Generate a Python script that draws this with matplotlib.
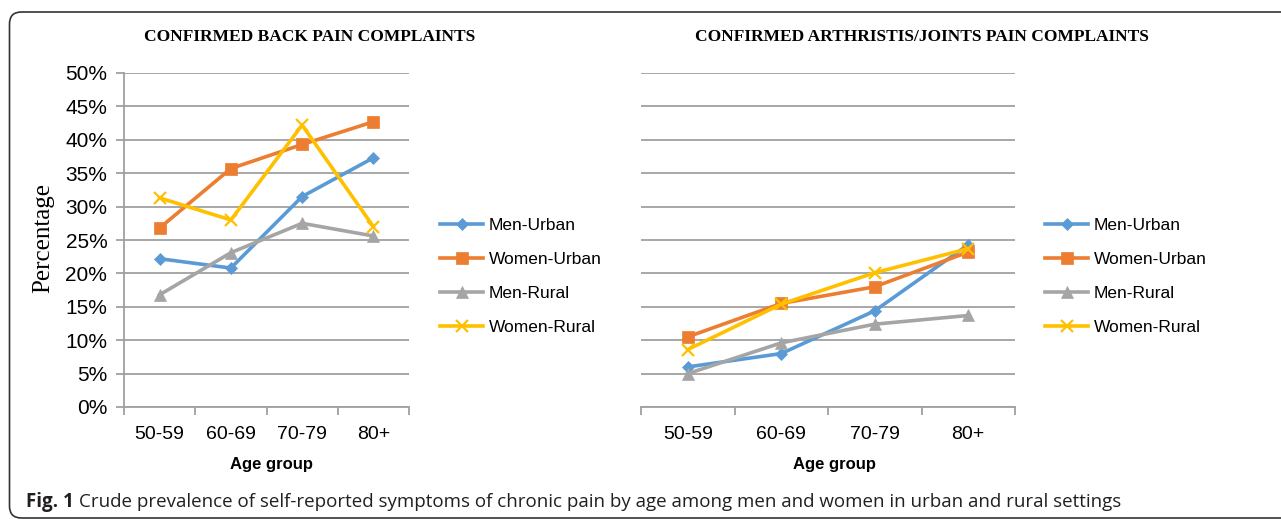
import numpy as np
import matplotlib
matplotlib.use('Agg')
import matplotlib.pyplot as plt
from matplotlib.patches import FancyBboxPatch
from matplotlib.transforms import IdentityTransform

W, H = 1281, 519

age_groups = ['50-59', '60-69', '70-79', '80+']
series_names = ['Men-Urban', 'Women-Urban', 'Men-Rural', 'Women-Rural']

# Back pain (%)
back_men_urban = [22.2, 20.8, 31.5, 37.3]
back_women_urban = [26.8, 35.7, 39.3, 42.7]
back_men_rural = [16.8, 23.1, 27.5, 25.6]
back_women_rural = [31.3, 28.0, 42.2, 27.0]

# Arthritis / joints pain (%)
joint_men_urban = [6.0, 8.0, 14.4, 24.3]
joint_women_urban = [10.5, 15.5, 18.0, 23.2]
joint_men_rural = [5.0, 9.6, 12.4, 13.7]
joint_women_rural = [8.6, 15.4, 20.1, 23.7]

y_ticks = [0, 5, 10, 15, 20, 25, 30, 35, 40, 45, 50]

colors = ['#5B9BD5', '#ED7D31', '#A5A5A5', '#FFC000']
markers = ['D', 's', '^', 'x']
msizes = [6.5, 8, 8, 9]

sans = 'Liberation Sans'
serif = 'Liberation Serif'
grid_col = '#a0a0a0'


def fx(px):
    return px / W


def fy(py):
    return 1 - py / H


fig = plt.figure(figsize=(W / 100, H / 100), dpi=100)


def make_axes(left, right, top, bottom, data, show_y):
    ax = fig.add_axes([fx(left), fy(bottom), fx(right - left), fy(top) - fy(bottom)])
    x = np.arange(len(age_groups))
    for vals, name, c, m, ms in zip(data, series_names, colors, markers, msizes):
        ax.plot(x, vals, color=c, lw=2.6, marker=m, markersize=ms,
                markeredgewidth=1.6 if m == 'x' else 0.5, markeredgecolor=c,
                label=name, zorder=3)
    ax.set_xlim(-0.5, 3.5)
    ax.set_ylim(0, 50)
    ax.set_yticks(y_ticks)
    ax.grid(axis='y', color=grid_col, lw=1.3)
    ax.set_axisbelow(True)
    ax.set_xticks(x)
    ax.set_xticklabels(age_groups, fontfamily=sans, fontsize=14)
    ax.set_xticks([-0.5, 0.5, 1.5, 2.5, 3.5], minor=True)
    ax.tick_params(axis='x', which='major', length=0, pad=14)
    ax.tick_params(axis='x', which='minor', length=6, color=grid_col, width=1.3)
    for s in ['top', 'right']:
        ax.spines[s].set_visible(False)
    ax.spines['bottom'].set_color(grid_col)
    ax.spines['bottom'].set_linewidth(1.3)
    if show_y:
        ax.set_yticklabels(['{}%'.format(v) for v in y_ticks], fontfamily=sans, fontsize=15)
        ax.tick_params(axis='y', length=6, color=grid_col, width=1.3, pad=6)
        ax.spines['left'].set_color(grid_col)
        ax.spines['left'].set_linewidth(1.3)
    else:
        ax.spines['left'].set_visible(False)
        ax.tick_params(axis='y', length=0, labelleft=False)
    return ax


ax1 = make_axes(124, 409, 73, 407,
                [back_men_urban, back_women_urban, back_men_rural, back_women_rural], True)
ax2 = make_axes(641, 1015, 73, 407,
                [joint_men_urban, joint_women_urban, joint_men_rural, joint_women_rural], False)

for ax, lx in [(ax1, 440), (ax2, 1045)]:
    ax.legend(loc='upper left', bbox_to_anchor=(fx(lx), fy(218)),
              bbox_transform=fig.transFigure, frameon=False,
              prop={'family': sans, 'size': 12.5}, handlelength=2.5,
              handletextpad=0.3, labelspacing=1.08, borderpad=0, borderaxespad=0)

# titles and axis labels
fig.text(fx(310), fy(37), 'CONFIRMED BACK PAIN COMPLAINTS', ha='center', va='center',
         fontfamily=serif, fontweight='bold', fontsize=12.5)
fig.text(fx(922), fy(37), 'CONFIRMED ARTHRISTIS/JOINTS PAIN COMPLAINTS', ha='center', va='center',
         fontfamily=serif, fontweight='bold', fontsize=12.5)
fig.text(fx(43), fy(238), 'Percentage', rotation=90, ha='center', va='center',
         fontfamily=serif, fontsize=18)
fig.text(fx(272), fy(464), 'Age group', ha='center', va='center',
         fontfamily=sans, fontweight='bold', fontsize=12)
fig.text(fx(835), fy(464), 'Age group', ha='center', va='center',
         fontfamily=sans, fontweight='bold', fontsize=12)

# frame around the figure
box = FancyBboxPatch((9.5, H - 518), 1300, 518 - 12,
                     boxstyle='round,pad=0,rounding_size=12',
                     transform=IdentityTransform(), fill=False,
                     edgecolor='#333333', lw=1.2)
fig.add_artist(box)

# caption
cap_col = '#231f20'
t1 = fig.text(fx(26), fy(502), 'Fig. 1', ha='left', va='center',
              fontfamily='Open Sans', fontweight='bold', fontsize=13.5, color=cap_col)
fig.canvas.draw()
bb = t1.get_window_extent()
fig.text((bb.x1 + 5) / W, fy(502),
         'Crude prevalence of self-reported symptoms of chronic pain by age among men and women in urban and rural settings',
         ha='left', va='center', fontfamily='Open Sans', fontsize=13.5, color=cap_col)

fig.savefig('out.png', dpi=100)
